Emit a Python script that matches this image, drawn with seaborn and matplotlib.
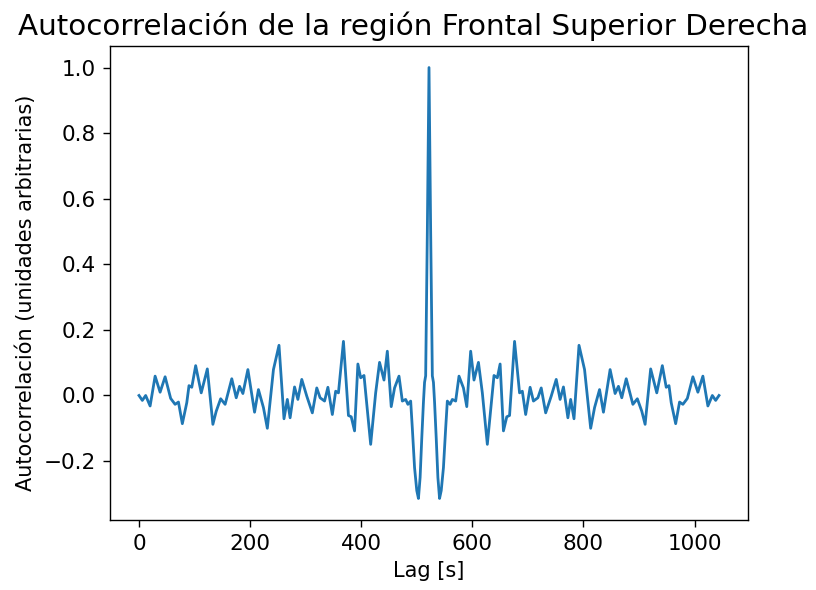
import matplotlib
matplotlib.use("Agg")
import matplotlib.pyplot as plt
import seaborn as sns
import pandas as pd

# Lag values [s]
lag = [0, 6, 12, 20, 29, 38, 47, 57, 65, 71, 78, 86, 90, 95, 102, 112, 123, 133, 139, 147,
       155, 167, 175, 181, 187, 196, 208, 215, 224, 231, 242, 252, 261, 267, 272, 280, 286, 293,
       302, 312, 320, 326, 334, 340, 348, 354, 359, 368, 377, 382, 388, 394, 399, 405, 417, 426,
       433, 441, 447, 454, 460, 468, 474, 480, 484, 489, 492, 496, 500, 503, 506, 509, 512, 514,
       516, 519, 522,
       525, 528, 530, 532, 535, 538, 541, 544, 548, 552, 555, 560, 564, 570, 576, 584, 590, 597,
       603, 611, 618, 627, 639, 645, 650, 656, 662, 667, 676, 685, 690, 696, 704, 710, 718, 724,
       732, 742, 751, 758, 764, 772, 777, 783, 792, 802, 813, 820, 829, 836, 848, 857, 863, 869,
       877, 889, 897, 905, 911, 921, 932, 942, 949, 954, 958, 966, 973, 979, 987, 997, 1006, 1015,
       1024, 1032, 1038, 1044]

# Autocorrelation values
acf = [0.0, -0.015, 0.0, -0.032, 0.059, 0.01, 0.057, -0.009, -0.027, -0.02, -0.086, -0.022, 0.03,
       0.025, 0.091, 0.008, 0.081, -0.088, -0.048, -0.01, -0.027, 0.051, -0.007, 0.028, 0.006,
       0.079, -0.051, 0.018, -0.037, -0.1, 0.079, 0.153, -0.071, -0.012, -0.068, 0.026, -0.012,
       0.049, -0.002, -0.053, 0.023, -0.007, -0.017, 0.025, -0.058, 0.013, 0.008, 0.165, -0.061,
       -0.065, -0.108, 0.096, 0.054, 0.061, -0.149, 0.008, 0.101, 0.047, 0.135, -0.034, 0.023,
       0.059, -0.017, -0.012, -0.027, -0.017, -0.10, -0.22, -0.29, -0.314, -0.25, -0.13, -0.02,
       0.04, 0.06, 0.5, 1.0,
       0.5, 0.06, 0.04, -0.02, -0.13, -0.25, -0.314, -0.29, -0.22, -0.10, -0.017, -0.027, -0.012,
       -0.017, 0.059, 0.023, -0.034, 0.135, 0.047, 0.101, 0.008, -0.149, 0.061, 0.054, 0.096,
       -0.108, -0.065, -0.061, 0.165, 0.008, 0.013, -0.058, 0.025, -0.017, -0.007, 0.023, -0.053,
       -0.002, 0.049, -0.012, 0.026, -0.068, -0.012, -0.071, 0.153, 0.079, -0.1, -0.037, 0.018,
       -0.051, 0.079, 0.006, 0.028, -0.007, 0.051, -0.027, -0.01, -0.048, -0.088, 0.081, 0.008,
       0.091, 0.025, 0.03, -0.022, -0.086, -0.02, -0.027, -0.009, 0.057, 0.01, 0.059, -0.032, 0.0,
       -0.015, 0.0]

title = "Autocorrelación de la región Frontal Superior Derecha"
xlabel = "Lag [s]"
ylabel = "Autocorrelación (unidades arbitrarias)"

df = pd.DataFrame({"lag": lag, "acf": acf})

fig = plt.figure(figsize=(8.16, 5.90), dpi=100)
ax = fig.add_axes([110 / 816, 70 / 590, 638 / 816, 474 / 590])

sns.lineplot(data=df, x="lag", y="acf", ax=ax, color="#1f77b4", linewidth=2.0, sort=False)

ax.set_title(title, fontsize=21.2, pad=8, x=0.475)
ax.set_xlabel(xlabel, fontsize=15.0, labelpad=5)
ax.set_ylabel(ylabel, fontsize=15.0, labelpad=6)
ax.yaxis.label.set_y(0.48)
ax.set_xticks([0, 200, 400, 600, 800, 1000])
ax.set_yticks([-0.2, 0.0, 0.2, 0.4, 0.6, 0.8, 1.0])
ax.tick_params(labelsize=15.5, length=5, width=1.0, pad=5)
for sp in ax.spines.values():
    sp.set_linewidth(1.0)

fig.savefig("out.png", dpi=100)
